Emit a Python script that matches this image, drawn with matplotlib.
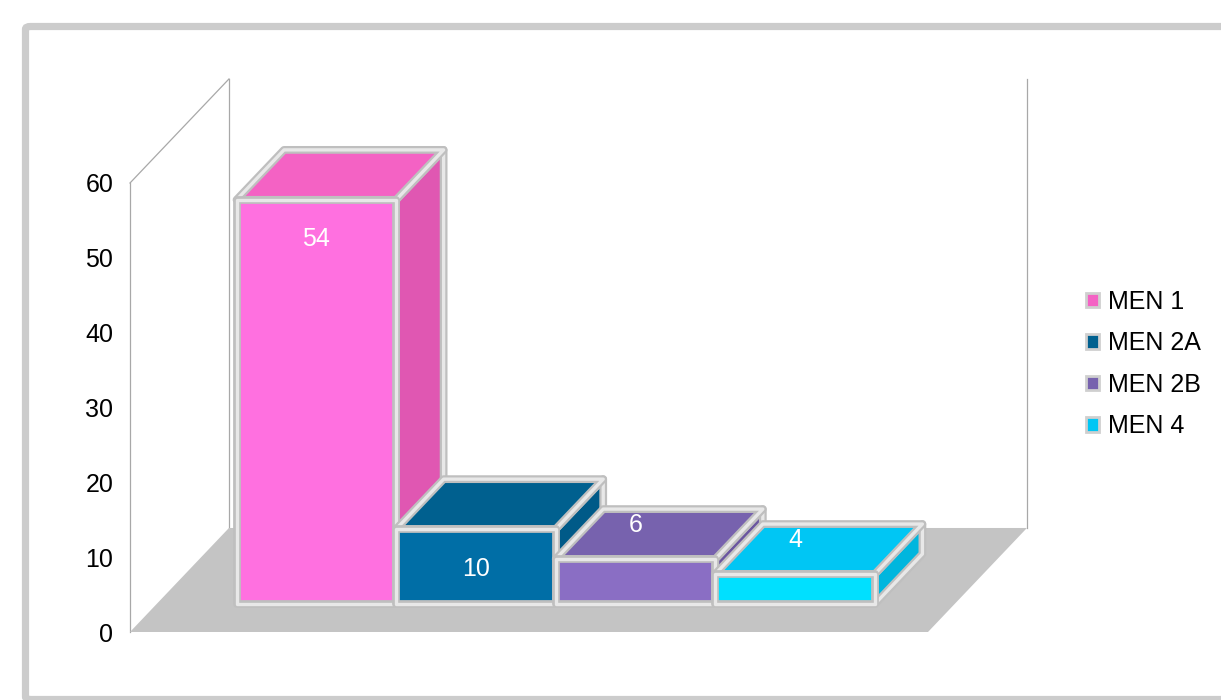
import numpy as np
import matplotlib.pyplot as plt
from matplotlib.patches import Polygon, FancyBboxPatch, Patch

plt.rcParams['font.family'] = ['Liberation Sans', 'DejaVu Sans']

series = ['MEN 1', 'MEN 2A', 'MEN 2B', 'MEN 4']
values = [54, 10, 6, 4]
yticks = [0, 10, 20, 30, 40, 50, 60]

front_colors = ['#ff70e0', '#006ea6', '#8a6ec4', '#00e0ff']
top_colors = ['#f462c4', '#00608f', '#7762ae', '#00c6f4']
side_colors = ['#e057b2', '#005a88', '#6a56a0', '#00b6de']

# oblique projection of the depth axis (in x-fraction / value units)
DX, DV = 0.124, 13.9
BAR_FRONT, BAR_BACK = 0.27, 0.75
GAP, WIDTH = 0.1, 0.2
FS = 18

W, H = 1221, 700
fig = plt.figure(figsize=(W / 100, H / 100), dpi=100)
ax = fig.add_axes([130 / W, (H - 632) / H, 798 / W, 449 / H])
ax.set_xlim(0, 1)
ax.set_ylim(0, 60)
for s in ax.spines.values():
    s.set_visible(False)
ax.set_xticks([])
ax.set_yticks(yticks)
ax.tick_params(axis='y', length=0, pad=12, labelsize=FS)
ax.patch.set_alpha(0)


def proj(x, v, d):
    return (x + d * DX, v + d * DV)


def face(pts, color, z):
    ax.add_patch(Polygon(pts, closed=True, facecolor=color, edgecolor='#bfbfbf',
                         lw=5.6, joinstyle='round', clip_on=False, zorder=z))
    ax.add_patch(Polygon(pts, closed=True, facecolor='none', edgecolor='#e8e8e8',
                         lw=2.4, joinstyle='round', clip_on=False, zorder=z + 0.01))


# floor
floor = [proj(0, 0, 0), proj(1, 0, 0), proj(1, 0, 1), proj(0, 0, 1)]
ax.add_patch(Polygon(floor, closed=True, facecolor='#c4c4c4', edgecolor='none',
                     clip_on=False, zorder=1))

# walls (outline only)
wall_kw = dict(color='#a8a8a8', lw=0.9, clip_on=False, zorder=0.5)
p0, p1 = proj(0, 0, 0), proj(0, 60, 0)
ax.plot([p0[0], p1[0]], [p0[1], p1[1]], **wall_kw)
p2 = proj(0, 60, 1)
ax.plot([p1[0], p2[0]], [p1[1], p2[1]], **wall_kw)
p3 = proj(0, 0, 1)
ax.plot([p2[0], p3[0]], [p2[1], p3[1]], **wall_kw)
p4, p5 = proj(1, 0, 1), proj(1, 60, 1)
ax.plot([p4[0], p5[0]], [p4[1], p5[1]], **wall_kw)

# 3d bars, drawn left to right so later bars hide earlier sides
for i, (v, name) in enumerate(zip(values, series)):
    x0 = GAP + i * WIDTH
    x1 = x0 + WIDTH
    z = 2 + i
    side = [proj(x1, 0, BAR_FRONT), proj(x1, 0, BAR_BACK),
            proj(x1, v, BAR_BACK), proj(x1, v, BAR_FRONT)]
    top = [proj(x0, v, BAR_FRONT), proj(x1, v, BAR_FRONT),
           proj(x1, v, BAR_BACK), proj(x0, v, BAR_BACK)]
    front = [proj(x0, 0, BAR_FRONT), proj(x1, 0, BAR_FRONT),
             proj(x1, v, BAR_FRONT), proj(x0, v, BAR_FRONT)]
    face(side, side_colors[i], z)
    face(top, top_colors[i], z + 0.1)
    face(front, front_colors[i], z + 0.2)

    # value label: inside the front face for tall bars, on the top for short ones
    if v > 8:
        lv = v - 5.3
    else:
        lv = v + 4.5
    lx, ly = proj((x0 + x1) / 2, lv, BAR_FRONT)
    ax.text(lx, ly, str(v), color='white', fontsize=FS, ha='center',
            va='center', zorder=10)

# legend
handles = [Patch(facecolor=c, edgecolor='#cfcfcf', lw=2) for c in top_colors]
fig.legend(handles, series, loc='center left', bbox_to_anchor=(1086 / W, 1 - 364 / H),
           frameon=False, fontsize=FS, handlelength=0.52, handleheight=0.52,
           handletextpad=0.36, labelspacing=0.7, borderpad=0, borderaxespad=0)

# outer rounded frame
fig.patches.append(FancyBboxPatch((25.5 / W, 1 - 699.5 / H), 1.1, (699.5 - 26.5) / H,
                                  boxstyle='round,pad=0,rounding_size=0.004',
                                  transform=fig.transFigure, facecolor='none',
                                  edgecolor='#cccccc', lw=5.2, zorder=0))

fig.savefig('out.png', dpi=100)
